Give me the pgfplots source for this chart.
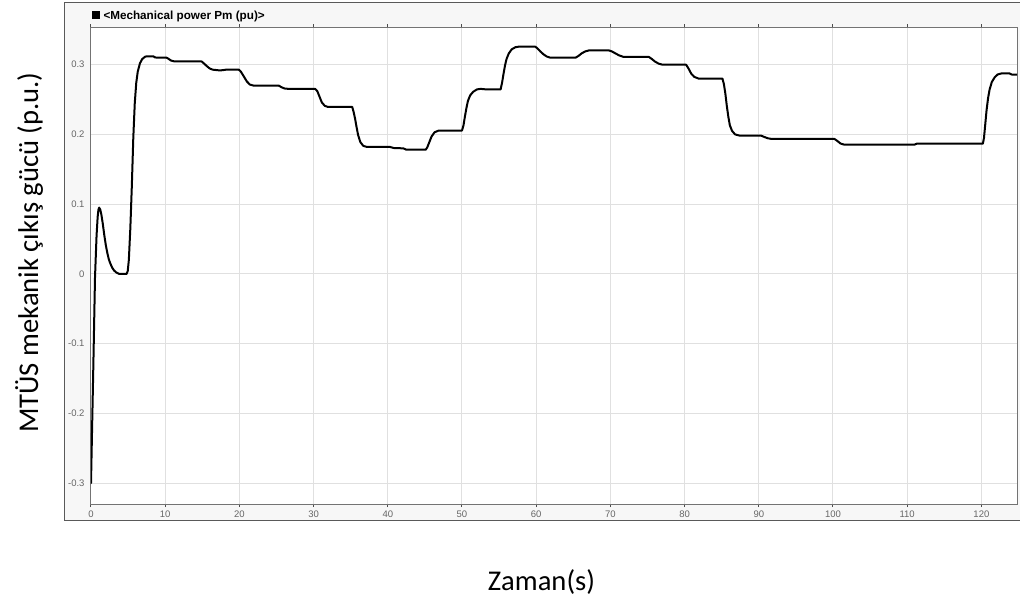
\documentclass[border=0pt]{standalone}
\usepackage{fontspec}
\setmainfont{Liberation Sans}
\newfontfamily\calibri{Carlito}
\usepackage{pgfplots}
\pgfplotsset{compat=1.18}
\pgfplotstableread{
t y
0 -0.300
0.3 -0.140
0.54 -0.005
0.75 0.055
0.9 0.082
1.0 0.092
1.1 0.095
1.25 0.092
1.4 0.085
1.6 0.071
1.8 0.055
2.0 0.041
2.2 0.030
2.4 0.021
2.6 0.015
2.85 0.009
3.1 0.005
3.4 0.002
3.8 0.000
4.8 0.000
4.95 0.004
5.1 0.020
5.3 0.065
5.5 0.125
5.7 0.195
5.9 0.245
6.1 0.274
6.3 0.290
6.6 0.302
6.9 0.308
7.3 0.3115
7.6 0.312
8.4 0.312
8.6 0.3105
8.9 0.310
10.2 0.310
10.5 0.308
10.8 0.3058
11.2 0.3048
14.9 0.3046
15.2 0.302
15.6 0.298
16.0 0.2945
16.4 0.2928
17.4 0.2917
18.0 0.2925
18.3 0.293
19.9 0.293
20.2 0.290
20.6 0.283
21.0 0.276
21.4 0.2715
21.9 0.270
25.3 0.270
25.7 0.2675
26.1 0.2658
26.6 0.2653
30.2 0.2653
30.5 0.262
30.8 0.254
31.1 0.246
31.5 0.241
31.9 0.2395
35.2 0.2395
35.4 0.232
35.6 0.222
35.8 0.210
36.0 0.199
36.3 0.189
36.7 0.1835
37.2 0.182
40.3 0.182
40.8 0.1805
42.1 0.180
42.5 0.178
45.1 0.178
45.3 0.181
45.6 0.189
45.9 0.197
46.3 0.203
46.8 0.2053
50.0 0.2055
50.2 0.213
50.4 0.226
50.6 0.238
50.8 0.248
51.1 0.256
51.5 0.261
52.0 0.2645
52.5 0.2653
53.4 0.2644
55.2 0.2644
55.4 0.274
55.6 0.287
55.8 0.299
56.0 0.308
56.3 0.316
56.7 0.322
57.2 0.325
57.6 0.3257
59.9 0.3257
60.2 0.323
60.6 0.3185
61.0 0.3147
61.4 0.3118
61.9 0.310
65.3 0.310
65.7 0.3125
66.1 0.316
66.6 0.319
67.1 0.3204
69.8 0.3204
70.2 0.319
70.7 0.316
71.2 0.3132
71.8 0.311
75.2 0.311
75.6 0.308
76.0 0.3045
76.5 0.3015
77.0 0.300
80.2 0.300
80.5 0.295
80.9 0.287
81.3 0.2825
81.9 0.280
85.1 0.280
85.3 0.272
85.5 0.258
85.7 0.240
85.9 0.225
86.1 0.213
86.4 0.205
86.8 0.200
87.4 0.1983
90.3 0.1983
90.7 0.1965
91.2 0.1945
91.7 0.1935
100.2 0.1935
100.6 0.1905
101.0 0.187
101.5 0.1853
111.0 0.1853
111.3 0.1868
120.2 0.1868
120.35 0.195
120.5 0.212
120.7 0.235
120.9 0.252
121.1 0.264
121.4 0.275
121.8 0.282
122.2 0.286
122.7 0.2874
123.8 0.2874
124.1 0.2858
125 0.2858
}\pm
\begin{document}
\begin{tikzpicture}[x=1pt,y=1pt]
\useasboundingbox (0,0) rectangle (1020,-603);
\clip (0,0) rectangle (1020,-603);
\draw[fill=black!3, draw=black!65, line width=1.5pt] (64.7,-2.7) rectangle (1025,-520.7);
\node[anchor=base west, inner sep=0, font=\fontsize{11.7}{14}\selectfont\bfseries] at (91.7,-19) {\rule{8.3pt}{8.3pt}\hspace{3.3pt}<Mechanical power Pm (pu)>};
\begin{axis}[
  at={(91pt,-504pt)}, anchor=south west,
  scale only axis, width=926pt, height=477pt,
  xmin=0, xmax=124.8, ymin=-0.330, ymax=0.354,
  xtick={0,10,...,120},
  ytick={-0.3,-0.2,-0.1,0,0.1,0.2,0.3},
  yticklabels={-0.3,-0.2,-0.1,0,0.1,0.2,0.3},
  grid=major, major grid style={black!12, line width=1pt},
  axis background/.style={fill=white},
  axis line style={black!55, line width=1pt},
  tick align=outside, major tick length=3pt,
  x tick style={black!70, line width=1pt},
  y tick style={draw=none},
  tick label style={font=\fontsize{9.5}{11}\selectfont, text=black!60},
  /pgf/number format/assume math mode=true,
  xlabel={Zaman(s)},
  ylabel={MTÜS mekanik çıkış gücü (p.u.)},
  label style={font=\calibri\fontsize{28.6}{32}\selectfont},
  xlabel style={at={(axis description cs:0.4865,0)}, anchor=base, yshift=-86.7pt},
  ylabel style={at={(axis description cs:-0.0572,0.527)}, anchor=base},
]
\addplot[black, line width=2pt, line join=round, line cap=round] table[x=t, y=y] {\pm};
\end{axis}
\end{tikzpicture}
\end{document}
